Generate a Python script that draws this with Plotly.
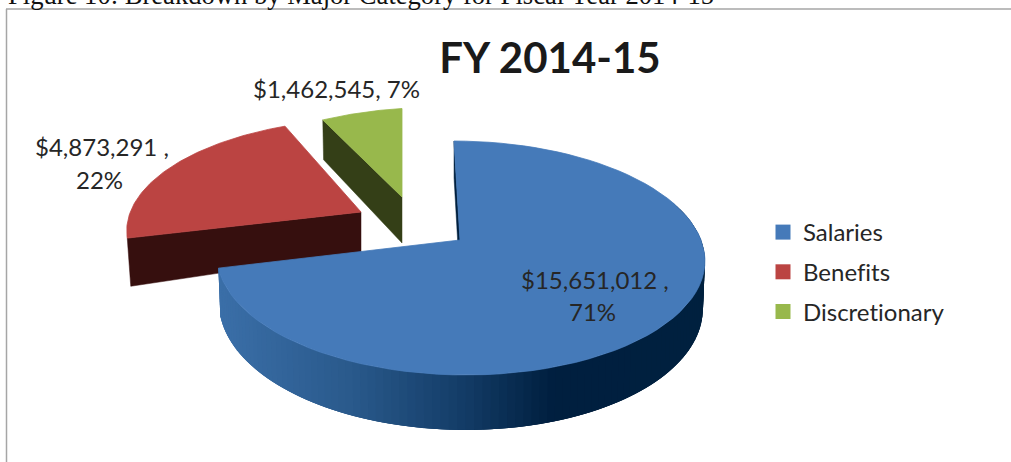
import math
import plotly.graph_objects as go

categories = ["Salaries", "Benefits", "Discretionary"]
amounts = [15651012, 4873291, 1462545]
top_colors = ["#457AB9", "#BB4442", "#98B84C"]
cut_colors = ["#00203F", "#360F0E", "#343F17"]
wall_stops = [(220, "#3B6FA8"), (350, "#2A5A8C"), (461, "#143D68"), (554, "#001F3F"), (705, "#00213F")]

# drawing geometry (pixel space of the 1011x462 page)
G = [dict(ax=460, ay=240, s=1.00, fx=0.996, skx=-6, sky=0, d_apex=42, shrink=0.992),
     dict(ax=361, ay=212, s=0.93, fx=1.025, skx=8, sky=0, d_apex=40, shrink=0.985),
     dict(ax=402, ay=197, s=0.88, fx=1.03, skx=0, sky=-13, d_apex=46, shrink=0.99)]
F, GG, K = 242.0, 114.2, 0.154


def proj(g, theta, scale=1.0):
    X = math.sin(theta) * g["s"]
    Y = math.cos(theta) * g["s"]
    w = 1 + K * Y
    x = g["ax"] + (F * g["fx"] * X / w + g["skx"] * Y) * scale
    y = g["ay"] - GG * Y / w + g["sky"] * X
    return x, y


def rim_depth(theta):
    return 46 - 9 * math.cos(theta)


def hex2rgb(h):
    return [int(h[i:i + 2], 16) for i in (1, 3, 5)]


def wall_color(x):
    for (x0, c0), (x1, c1) in zip(wall_stops, wall_stops[1:]):
        if x <= x1:
            t = max(0, (x - x0) / (x1 - x0))
            a, b = hex2rgb(c0), hex2rgb(c1)
            return "rgb(%d,%d,%d)" % tuple(a[i] + (b[i] - a[i]) * t for i in range(3))
    return wall_stops[-1][1]


total = sum(amounts)
angles = [0]
for v in amounts:
    angles.append(angles[-1] + v / total * 2 * math.pi)

fig = go.Figure()


def poly(xs, ys, color, lw=0.8):
    fig.add_trace(go.Scatter(x=xs + xs[:1], y=ys + ys[:1], mode="lines", fill="toself",
                             fillcolor=color, line=dict(color=color, width=lw),
                             hoverinfo="skip", showlegend=False))


def arc(g, a0, a1, n=80, scale=1.0):
    pts = [proj(g, a0 + (a1 - a0) * i / n, scale) for i in range(n + 1)]
    return [p[0] for p in pts], [p[1] for p in pts]


def cut_face(i, theta):
    g = G[i]
    rx, ry = proj(g, theta)
    bx, by = proj(g, theta, g["shrink"])
    d = rim_depth(theta) + (2 if i == 2 else 0)
    poly([g["ax"], rx, bx, g["ax"]], [g["ay"], ry, by + d, g["ay"] + g["d_apex"]], cut_colors[i], 0.5)


# back to front: discretionary, benefits, salaries
for i in (2, 1, 0):
    a0, a1 = angles[i], angles[i + 1]
    g = G[i]
    if i == 0:
        cut_face(0, a0)
        # curved outer wall, shaded; each slice overlaps the next to hide seams
        lo, hi = math.radians(70), a1
        n = 110
        for k in range(n):
            t0 = lo + (hi - lo) * k / n
            t1 = lo + (hi - lo) * min(k + 3, n) / n
            tm = lo + (hi - lo) * (k + 0.5) / n
            x0, y0 = proj(g, t0)
            x1, y1 = proj(g, t1)
            bx0, by0 = proj(g, t0, g["shrink"])
            bx1, by1 = proj(g, t1, g["shrink"])
            poly([x0, x1, bx1, bx0], [y0, y1, by1 + rim_depth(t1), by0 + rim_depth(t0)],
                 wall_color(proj(g, tm)[0]), 0)
    else:
        cut_face(i, a0)
    xs, ys = arc(g, a0, a1)
    poly([g["ax"]] + xs, [g["ay"]] + ys, top_colors[i])

# native legend entries
for name, color in zip(categories, top_colors):
    fig.add_trace(go.Scatter(x=[None], y=[None], mode="markers", name=name, legendgroup=name,
                             marker=dict(symbol="square", size=15, color=color)))

label_font = dict(family="Lato", size=24, color="#262626")
pcts = [round(v / total * 100) for v in amounts]
money = ["${:,}".format(v) for v in amounts]
lab_lines = [
    [(money[0] + " ,", 595, 279), (f"{pcts[0]}%", 592, 311)],
    [(money[1] + " ,", 102, 146), (f"{pcts[1]}%", 99, 179)],
    [(f"{money[2]}, {pcts[2]}%", 336, 88)],
]
annots = []
for group in lab_lines:
    for txt, x, y in group:
        annots.append(dict(text=txt, x=x, y=y, xref="x", yref="y", showarrow=False,
                           xanchor="center", yanchor="middle", font=label_font))
annots.append(dict(text="Figure 10: Breakdown by Major Category for Fiscal Year 2014-15",
                   x=6 / 1011, y=1 + 5 / 462, xref="paper", yref="paper", showarrow=False,
                   xanchor="left", yanchor="middle",
                   font=dict(family="Liberation Serif", size=26.6, color="#111111")))

fig.update_layout(
    width=1011, height=462, margin=dict(l=0, r=0, t=0, b=0),
    paper_bgcolor="white", plot_bgcolor="white",
    xaxis=dict(range=[0, 1011], visible=False, fixedrange=True),
    yaxis=dict(range=[462, 0], visible=False, fixedrange=True),
    title=dict(text="<b>FY 2014-15</b>", x=550 / 1011, y=1 - 58 / 462, xanchor="center", yanchor="middle",
               font=dict(family="Lato", size=42, color="#1A1A1A")),
    legend=dict(x=763 / 1011, y=1 - 210 / 462, xanchor="left", yanchor="top",
                font=dict(family="Lato", size=24, color="#262626"),
                tracegroupgap=5.5, bgcolor="rgba(0,0,0,0)"),
    annotations=annots,
    shapes=[dict(type="line", xref="x", yref="y", x0=6.5, y0=9, x1=6.5, y1=462, line=dict(color="#A6A6A6", width=1.5)),
            dict(type="line", xref="x", yref="y", x0=6, y0=9, x1=1011, y1=9, line=dict(color="#A6A6A6", width=1.5))],
)
post = ("document.body.style.margin='0';"
        "document.head.insertAdjacentHTML('beforeend','<style>svg text{font-variant-ligatures:none !important;"
        "font-feature-settings:\"liga\" 0,\"clig\" 0,\"calt\" 0 !important}</style>');")
fig.write_html("out.html", post_script=post, config={"displayModeBar": False})
